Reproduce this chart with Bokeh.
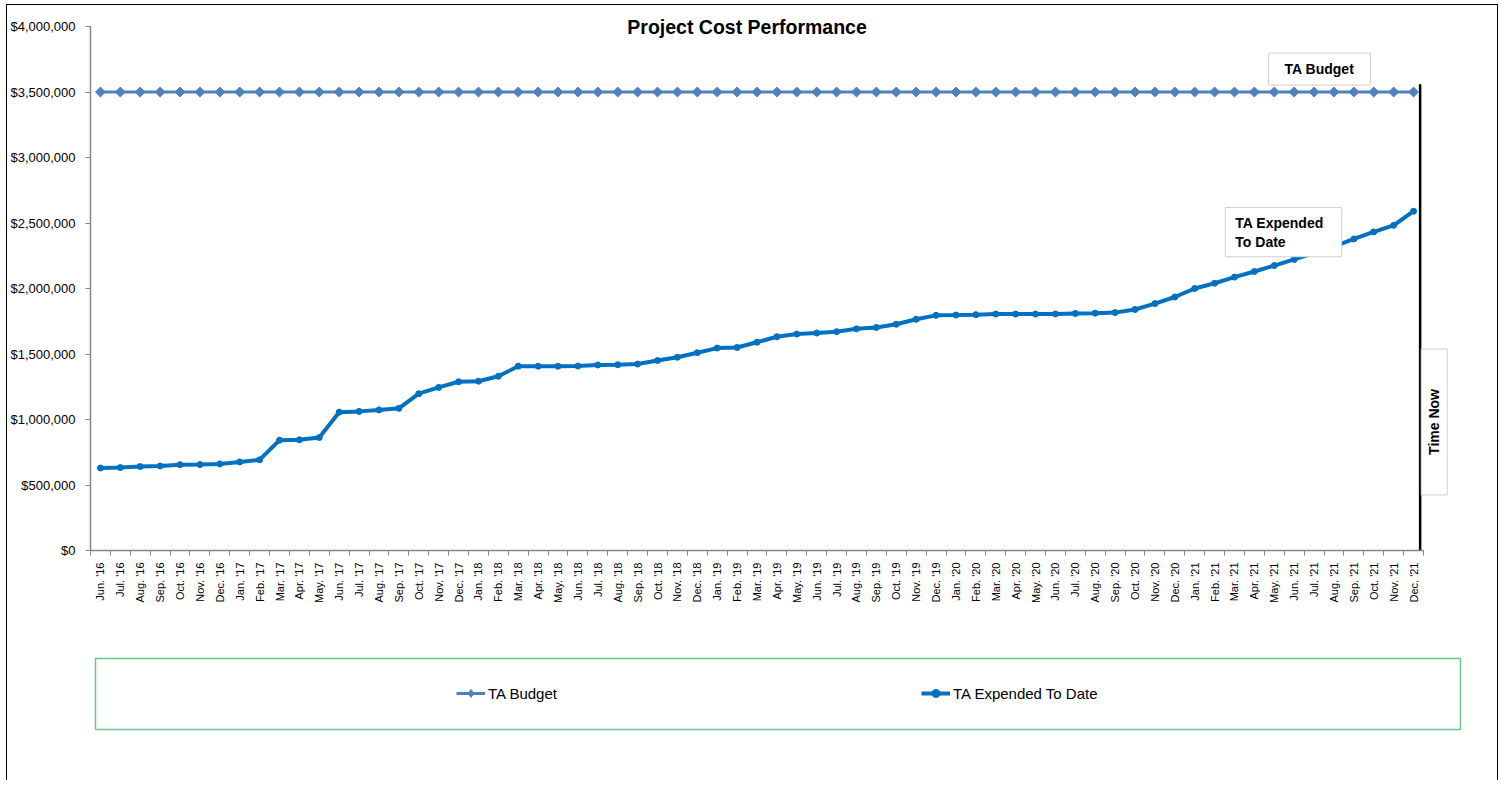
import math
from bokeh.plotting import figure
from bokeh.layouts import column
from bokeh.models import (Range1d, FixedTicker, NumeralTickFormatter, Label,
                          Legend, LegendItem)
from bokeh.embed import file_html
from bokeh.resources import INLINE

months = [
    "Jun. '16", "Jul. '16", "Aug. '16", "Sep. '16", "Oct. '16", "Nov. '16", "Dec. '16",
    "Jan. '17", "Feb. '17", "Mar. '17", "Apr. '17", "May. '17", "Jun. '17",
    "Jul. '17", "Aug. '17", "Sep. '17", "Oct. '17", "Nov. '17", "Dec. '17",
    "Jan. '18", "Feb. '18", "Mar. '18", "Apr. '18", "May. '18", "Jun. '18",
    "Jul. '18", "Aug. '18", "Sep. '18", "Oct. '18", "Nov. '18", "Dec. '18",
    "Jan. '19", "Feb. '19", "Mar. '19", "Apr. '19", "May. '19", "Jun. '19",
    "Jul. '19", "Aug. '19", "Sep. '19", "Oct. '19", "Nov. '19", "Dec. '19",
    "Jan. '20", "Feb. '20", "Mar. '20", "Apr. '20", "May. '20", "Jun. '20",
    "Jul. '20", "Aug. '20", "Sep. '20", "Oct. '20", "Nov. '20", "Dec. '20",
    "Jan. '21", "Feb. '21", "Mar. '21", "Apr. '21", "May. '21", "Jun. '21",
    "Jul. '21", "Aug. '21", "Sep. '21", "Oct. '21", "Nov. '21", "Dec. '21",
]

ta_budget = [
    3500000, 3500000, 3500000, 3500000, 3500000, 3500000, 3500000,
    3500000, 3500000, 3500000, 3500000, 3500000, 3500000,
    3500000, 3500000, 3500000, 3500000, 3500000, 3500000,
    3500000, 3500000, 3500000, 3500000, 3500000, 3500000,
    3500000, 3500000, 3500000, 3500000, 3500000, 3500000,
    3500000, 3500000, 3500000, 3500000, 3500000, 3500000,
    3500000, 3500000, 3500000, 3500000, 3500000, 3500000,
    3500000, 3500000, 3500000, 3500000, 3500000, 3500000,
    3500000, 3500000, 3500000, 3500000, 3500000, 3500000,
    3500000, 3500000, 3500000, 3500000, 3500000, 3500000,
    3500000, 3500000, 3500000, 3500000, 3500000, 3500000,
]

ta_expended = [
    630000, 633000, 641000, 645000, 655000, 656000, 661000,
    676000, 692000, 842000, 845000, 862000, 1056000,
    1062000, 1073000, 1085000, 1197000, 1245000, 1288000,
    1292000, 1330000, 1407000, 1407000, 1407000, 1408000,
    1416000, 1418000, 1423000, 1450000, 1475000, 1510000,
    1545000, 1550000, 1590000, 1632000, 1652000, 1660000,
    1670000, 1692000, 1703000, 1727000, 1765000, 1795000,
    1797000, 1800000, 1805000, 1805000, 1805000, 1806000,
    1810000, 1812000, 1816000, 1840000, 1885000, 1935000,
    2000000, 2040000, 2087000, 2130000, 2175000, 2222000,
    2270000, 2320000, 2378000, 2432000, 2482000, 2590000,
]

y_ticks = [0, 500000, 1000000, 1500000, 2000000, 2500000, 3000000, 3500000, 4000000]
time_now_top = 3560000

FONT = "Liberation Sans"
AXIS_GRAY = "#868686"
BUDGET_COLOR = "#4f81bd"
EXPENDED_COLOR = "#0070c0"

n = len(months)
x = list(range(n))

# ---- layout geometry (pixels) ----
W = 1490
LEFT = 83                 # room for the value-axis labels
AXIS_PX_X = 1333          # length of the category axis
AXIS_PX_Y = 524           # length of the value axis
FRAME_W = 1370            # frame extends right of the axis (room for "Time Now")
FRAME_H = 542             # frame extends above the axis (room for the title)
RIGHT = W - LEFT - FRAME_W
cat_px = AXIS_PX_X / n
x_end = -0.5 + FRAME_W / cat_px
y_end = y_ticks[-1] * FRAME_H / AXIS_PX_Y

P_H = 635
p = figure(width=W, height=P_H, output_backend="svg", toolbar_location=None,
           x_range=Range1d(-0.5, x_end), y_range=Range1d(y_ticks[0], y_end),
           min_border_left=LEFT, min_border_right=RIGHT, min_border_top=3,
           min_border_bottom=P_H - 3 - FRAME_H)
p.outline_line_color = None
p.xgrid.visible = False
p.ygrid.visible = False

# series
b_line = p.line(x, ta_budget, line_color=BUDGET_COLOR, line_width=3)
b_pts = p.scatter(x, ta_budget, marker="square", angle=math.pi / 4, size=7,
                  fill_color=BUDGET_COLOR, line_color=BUDGET_COLOR)
e_line = p.line(x, ta_expended, line_color=EXPENDED_COLOR, line_width=4)
e_pts = p.scatter(x, ta_expended, marker="circle", size=6,
                  fill_color=EXPENDED_COLOR, line_color=EXPENDED_COLOR)

# time now line
p.segment(x0=[n - 1 + 0.33], y0=[0], x1=[n - 1 + 0.33], y1=[time_now_top],
          line_color="black", line_width=2.5)

# axes
xa = p.xaxis[0]
xa.bounds = (-0.5, n - 0.5)
xa.ticker = FixedTicker(ticks=x, minor_ticks=[i - 0.5 for i in range(n + 1)])
xa.major_label_overrides = {i: m for i, m in enumerate(months)}
xa.major_label_orientation = math.pi / 2
xa.major_tick_line_color = None
xa.minor_tick_line_color = AXIS_GRAY
xa.minor_tick_in = 0
xa.minor_tick_out = 5
xa.axis_line_color = AXIS_GRAY
xa.axis_line_width = 1.5
xa.major_label_standoff = 6
xa.major_label_text_font = FONT
xa.major_label_text_font_size = "11px"
xa.major_label_text_color = "black"

ya = p.yaxis[0]
ya.bounds = (y_ticks[0], y_ticks[-1])
ya.ticker = FixedTicker(ticks=y_ticks, minor_ticks=[])
ya.formatter = NumeralTickFormatter(format="$0,0")
ya.major_tick_in = 0
ya.major_tick_out = 5
ya.major_tick_line_color = AXIS_GRAY
ya.axis_line_color = AXIS_GRAY
ya.axis_line_width = 1.5
ya.major_label_standoff = 10
ya.major_label_text_font = FONT
ya.major_label_text_font_size = "13px"
ya.major_label_text_color = "black"

# title
p.add_layout(Label(x=32.5, y=3995000, text="Project Cost Performance",
                   text_align="center", text_baseline="middle",
                   text_font=FONT, text_font_size="19.5px", text_font_style="bold",
                   text_color="black"))

box_style = dict(text_font=FONT, text_font_style="bold", text_font_size="14px",
                 text_color="black", background_fill_color="white",
                 border_line_color="#d0d0d0", border_line_width=1)

p.add_layout(Label(x=61.27, y=3675000, text="TA Budget", text_align="center",
                   text_baseline="middle",
                   padding=dict(left=16, right=16, top=8, bottom=8), **box_style))
p.add_layout(Label(x=56.54, y=2618000, text="TA Expended\nTo Date", text_align="left",
                   text_baseline="top",
                   padding=dict(left=10, right=18, top=7, bottom=7), **box_style))
p.add_layout(Label(x=67.04, y=981000, text="Time Now", text_align="center",
                   text_baseline="middle", angle=math.pi / 2,
                   padding=dict(left=40, right=40, top=5, bottom=5), **box_style))

# ---- legend panel (its frame outline is the green legend box) ----
L_H = 140
LG_SHIFT = 5
lg = figure(width=W - LG_SHIFT, height=L_H, output_backend="svg", toolbar_location=None,
            x_range=Range1d(-1, 0), y_range=Range1d(-1, 0),
            x_axis_type=None, y_axis_type=None,
            min_border_left=LEFT, min_border_right=RIGHT,
            min_border_top=18, min_border_bottom=L_H - 18 - 71,
            margin=(0, 0, 0, LG_SHIFT))
lg.xgrid.visible = False
lg.ygrid.visible = False
lg.outline_line_color = "#66c98a"
lg.outline_line_width = 1.5

# same series, kept out of this panel's view: they only supply the legend glyphs
lb_line = lg.line(x, ta_budget, line_color=BUDGET_COLOR, line_width=3)
lb_pts = lg.scatter(x, ta_budget, marker="diamond", size=10,
                    fill_color=BUDGET_COLOR, line_color=BUDGET_COLOR)
le_line = lg.line(x, ta_expended, line_color=EXPENDED_COLOR, line_width=4)
le_pts = lg.scatter(x, ta_expended, marker="circle", size=6,
                    fill_color=EXPENDED_COLOR, line_color=EXPENDED_COLOR)

legend = Legend(items=[LegendItem(label="TA Budget", renderers=[lb_line, lb_pts]),
                       LegendItem(label="TA Expended To Date", renderers=[le_line, le_pts])],
                orientation="horizontal", location=(361, 26),
                spacing=361, label_width=72, glyph_width=29, glyph_height=20,
                label_height=20, label_standoff=3, padding=0,
                border_line_color=None, background_fill_alpha=0,
                label_text_font=FONT, label_text_font_size="15px",
                label_text_color="black")
lg.add_layout(legend)

layout = column(p, lg, spacing=0, margin=(4, 0, 0, 6),
                styles={"border-left": "1px solid black",
                        "border-top": "1px solid black",
                        "border-right": "1px solid black"})

open("out.html", "w").write(file_html(layout, INLINE))
